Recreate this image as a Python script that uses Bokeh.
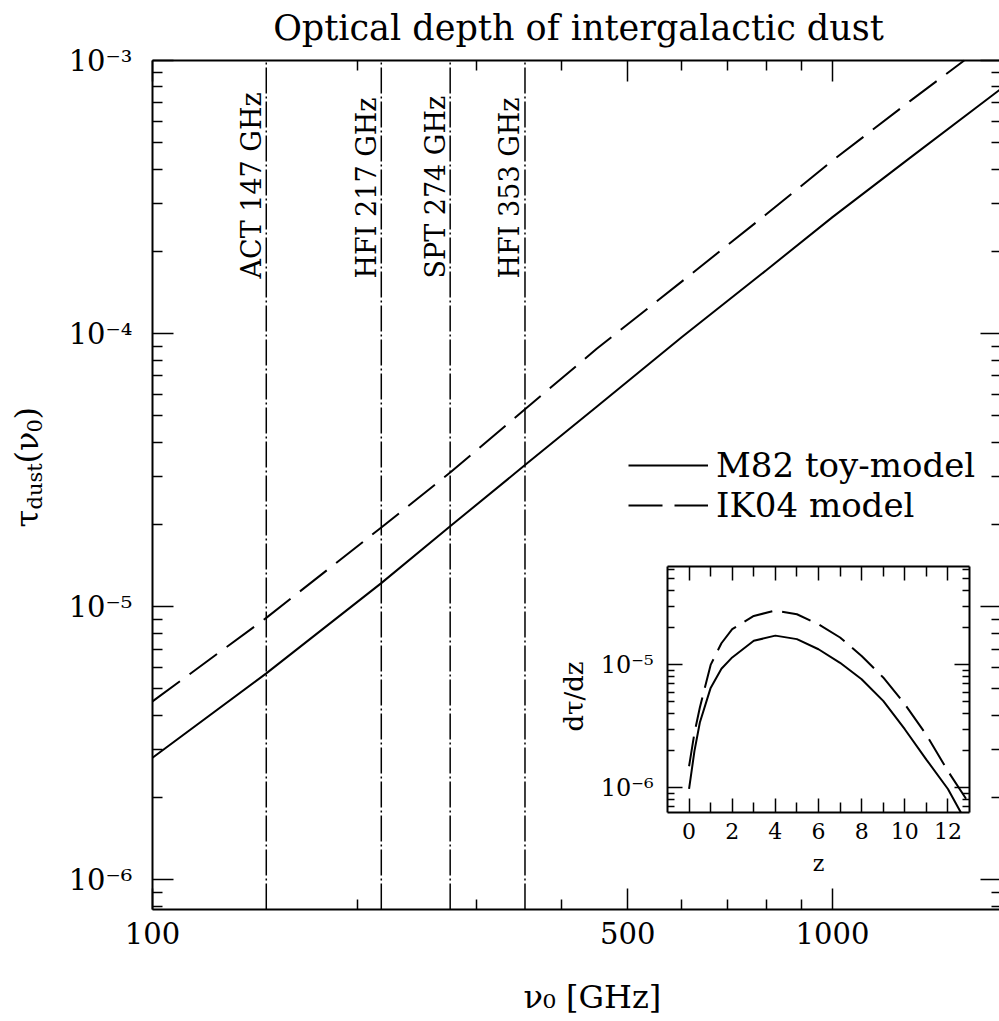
import numpy as np
from bokeh.plotting import figure
from bokeh.models import (Range1d, LogScale, LinearScale, LogAxis, LinearAxis, FixedTicker,
                          CustomJSTickFormatter, Label, Legend, LegendItem)
from bokeh.embed import file_html
from bokeh.resources import INLINE

FONT = "DejaVu Serif"

# ---------------- data ----------------
nu_m82 = [100, 147, 217, 274, 353, 450, 600, 800, 1000, 1300, 1760]
tau_m82 = [2.8e-6, 5.7e-6, 1.22e-5, 1.97e-5, 3.3e-5, 5.4e-5, 9.7e-5, 1.71e-4, 2.67e-4, 4.4e-4, 7.8e-4]
nu_ik04 = [100, 147, 217, 274, 353, 450, 600, 800, 1000, 1300, 1562]
tau_ik04 = [4.5e-6, 9.1e-6, 1.95e-5, 3.1e-5, 5.28e-5, 8.8e-5, 1.55e-4, 2.74e-4, 4.3e-4, 7.1e-4, 1.0e-3]

band_freqs = [147, 217, 274, 353]
band_labels = ["ACT 147 GHz", "HFI 217 GHz", "SPT 274 GHz", "HFI 353 GHz"]

z_m82 = [0, 0.25, 0.5, 1, 1.5, 2, 3, 4, 5, 6, 7, 8, 9, 10, 11, 12, 12.6]
dtau_m82 = [9.8e-7, 2.0e-6, 3.4e-6, 6.5e-6, 9.3e-6, 1.15e-5, 1.57e-5, 1.73e-5, 1.62e-5,
            1.34e-5, 1.04e-5, 7.65e-6, 5.1e-6, 3.0e-6, 1.7e-6, 9.8e-7, 6.3e-7]
z_ik04 = [0, 0.25, 0.5, 1, 1.5, 2, 3, 4, 5, 6, 7, 8, 9, 10, 11, 12, 13]
dtau_ik04 = [1.5e-6, 2.8e-6, 4.5e-6, 1.0e-5, 1.5e-5, 1.95e-5, 2.5e-5, 2.77e-5, 2.58e-5,
             2.14e-5, 1.67e-5, 1.18e-5, 7.9e-6, 4.8e-6, 2.7e-6, 1.37e-6, 7.4e-7]

x_ticks_major = [100, 500, 1000]
x_ticks_minor = [200, 300, 400, 600, 700, 800, 900]
y_ticks_major = [1e-6, 1e-5, 1e-4, 1e-3]
z_ticks_major = [0, 2, 4, 6, 8, 10, 12]
z_ticks_minor = [1, 3, 5, 7, 9, 11]
dz_ticks_major = [1e-6, 1e-5]

# ---------------- layout (canvas pixels) ----------------
W, H = 999, 1021
BL, BR, BT, BB = 152, 1001, 60, 909          # main plot box
PX_DEC_X, PX_DEC_Y = 680.0, 273.1
IL, IR, IT, IB = 667, 969, 566, 812          # inset box
Z_LO, Z_HI = -1.0, 13.0
D_LO, D_HI = -6.2, -4.2                      # log10 extent of inset y

X_LO = 100.0
X_HI = 10 ** (2 + (BR - BL) / PX_DEC_X)
Y_HI = 1e-3
Y_LO = 10 ** (-3 - (BB - BT) / PX_DEC_Y)

x_rng = Range1d(10 ** (2 - BL / PX_DEC_X), 10 ** (2 + (W - BL) / PX_DEC_X))
y_rng = Range1d(10 ** (-3 - (H - BT) / PX_DEC_Y), 10 ** (-3 + BT / PX_DEC_Y))
zpx = (IR - IL) / (Z_HI - Z_LO)
dpx = (IB - IT) / (D_HI - D_LO)
z_rng = Range1d(Z_LO - IL / zpx, Z_HI + (W - IR) / zpx)
d_rng = Range1d(10 ** (D_LO - (H - IB) / dpx), 10 ** (D_HI + IT / dpx))

def within(vals, lo, hi):
    return [v for v in vals if lo * (1 - 1e-9) <= v <= hi * (1 + 1e-9)]

y_ticks_minor = within([k * 10.0 ** e for e in (-7, -6, -5, -4) for k in range(2, 10)], Y_LO, Y_HI)
dz_ticks_minor = within([k * 10.0 ** e for e in (-7, -6, -5) for k in range(2, 10)], 10 ** D_LO, 10 ** D_HI)

def sy(Y):
    return H - Y

p = figure(width=W, height=H, x_axis_type="log", y_axis_type="log",
           x_axis_location=None, y_axis_location=None,
           x_range=x_rng, y_range=y_rng,
           output_backend="svg", toolbar_location=None,
           min_border_left=0, min_border_right=0, min_border_top=0, min_border_bottom=0)
p.grid.visible = False
p.outline_line_color = None
p.background_fill_color = "white"
p.border_fill_color = "white"
p.title.visible = False

sup_code = """
const sup = {"-":"\\u207B","0":"\\u2070","1":"\\u00B9","2":"\\u00B2","3":"\\u00B3","4":"\\u2074",
             "5":"\\u2075","6":"\\u2076","7":"\\u2077","8":"\\u2078","9":"\\u2079"};
const e = Math.round(Math.log10(tick));
return "10" + String(e).split("").map(c => sup[c]).join("");
"""
int_code = "return tick.toFixed(0);"
blank = "return '';"

def make_axis(cls, side, loc, bounds, ticks, minor, code, maj, minr, size="29px", standoff=12,
              xr="default", yr="default", labels=True):
    ax = cls(x_range_name=xr, y_range_name=yr, fixed_location=loc, bounds=bounds,
             ticker=FixedTicker(ticks=ticks, minor_ticks=minor),
             formatter=CustomJSTickFormatter(code=code if labels else blank))
    ax.axis_line_width = 2
    ax.axis_line_color = "black"
    ax.major_tick_in = maj
    ax.major_tick_out = 0
    ax.minor_tick_in = minr
    ax.minor_tick_out = 0
    ax.major_tick_line_width = 1.5
    ax.minor_tick_line_width = 1.5
    ax.major_tick_line_color = "black"
    ax.minor_tick_line_color = "black"
    ax.major_label_text_font = FONT
    ax.major_label_text_color = "black"
    ax.major_label_text_font_size = size if labels else "0px"
    ax.major_label_standoff = standoff if labels else 0
    p.add_layout(ax, side)
    return ax

# main box axes
make_axis(LogAxis, "below", Y_LO, (X_LO, X_HI), x_ticks_major, x_ticks_minor, int_code, 21, 10, standoff=12)
make_axis(LogAxis, "above", Y_HI, (X_LO, X_HI), x_ticks_major, x_ticks_minor, int_code, 21, 10, labels=False)
make_axis(LogAxis, "left", X_LO, (Y_LO, Y_HI), y_ticks_major, y_ticks_minor, sup_code, 21, 10, standoff=20)
make_axis(LogAxis, "right", X_HI, (Y_LO, Y_HI), y_ticks_major, y_ticks_minor, sup_code, 21, 10, labels=False)

# main curves
r_m82 = p.line(nu_m82, tau_m82, line_color="black", line_width=2)
r_ik = p.line(nu_ik04, tau_ik04, line_color="black", line_width=2, line_dash="34 12")

# band lines and labels
p.segment(x0=band_freqs, y0=[Y_LO] * len(band_freqs), x1=band_freqs, y1=[Y_HI] * len(band_freqs),
          line_color="black", line_width=1.5, line_dash="26 3 2 3")
for f, lab in zip(band_freqs, band_labels):
    p.add_layout(Label(x=f, y=sy(278), x_units="data", y_units="screen", text=lab,
                       angle=90, angle_units="deg", x_offset=-15,
                       text_align="left", text_baseline="alphabetic",
                       text_font=FONT, text_font_size="27px", text_color="black"))

# legend
legend = Legend(items=[LegendItem(label="M82 toy-model", renderers=[r_m82]),
                       LegendItem(label="IK04 model", renderers=[r_ik])],
                location=(628, sy(525)), border_line_color=None,
                background_fill_alpha=0, glyph_width=80, label_standoff=8,
                padding=0, margin=0, spacing=0,
                label_text_font=FONT, label_text_font_size="34px", label_text_color="black")
p.add_layout(legend)

# title and axis titles
p.add_layout(Label(x=578, y=sy(27), x_units="screen", y_units="screen",
                   text="Optical depth of intergalactic dust", text_align="center",
                   text_baseline="alphabetic", text_font=FONT, text_font_size="35px",
                   text_color="black"))
p.add_layout(Label(x=523, y=sy(996), x_units="screen", y_units="screen",
                   text="\u03bd\u2080 [GHz]", text_align="left", text_baseline="alphabetic",
                   text_font=FONT, text_font_size="32px", text_color="black"))
ylab_parts = [("\u03c4", "32px", 26, 527), ("dust", "21px", 34, 509), ("(\u03bd", "32px", 26, 463),
              ("0", "21px", 34, 432), (")", "32px", 26, 419)]
for txt, sz, X, Y in ylab_parts:
    p.add_layout(Label(x=X, y=sy(Y), x_units="screen", y_units="screen", text=txt,
                       angle=90, angle_units="deg", text_align="left", text_baseline="alphabetic",
                       text_font=FONT, text_font_size=sz, text_color="black"))

# ---------------- inset ----------------
p.extra_x_ranges = {"z": z_rng}
p.extra_y_ranges = {"dz": d_rng}
p.extra_x_scales = {"z": LinearScale()}
p.extra_y_scales = {"dz": LogScale()}

make_axis(LinearAxis, "below", 10 ** D_LO, (Z_LO, Z_HI), z_ticks_major, z_ticks_minor, int_code, 14, 10,
          size="22px", standoff=10, xr="z", yr="dz")
make_axis(LinearAxis, "above", 10 ** D_HI, (Z_LO, Z_HI), z_ticks_major, z_ticks_minor, int_code, 14, 10,
          xr="z", yr="dz", labels=False)
make_axis(LogAxis, "left", Z_LO, (10 ** D_LO, 10 ** D_HI), dz_ticks_major, dz_ticks_minor, sup_code, 15, 7,
          size="24px", standoff=14, xr="z", yr="dz")
make_axis(LogAxis, "right", Z_HI, (10 ** D_LO, 10 ** D_HI), dz_ticks_major, dz_ticks_minor, sup_code, 15, 7,
          xr="z", yr="dz", labels=False)

p.line(z_m82, dtau_m82, x_range_name="z", y_range_name="dz", line_color="black", line_width=2)
p.line(z_ik04, dtau_ik04, x_range_name="z", y_range_name="dz", line_color="black", line_width=2,
       line_dash="30 10")

p.add_layout(Label(x=818, y=sy(863), x_units="screen", y_units="screen", text="z",
                   text_align="center", text_baseline="alphabetic",
                   text_font=FONT, text_font_size="22px", text_color="black"))
p.add_layout(Label(x=573, y=sy(696), x_units="screen", y_units="screen", text="d\u03c4/dz",
                   angle=90, angle_units="deg", text_align="center", text_baseline="middle",
                   text_font=FONT, text_font_size="26px", text_color="black"))

with open("out.html", "w", encoding="utf-8") as fh:
    fh.write(file_html(p, INLINE))
